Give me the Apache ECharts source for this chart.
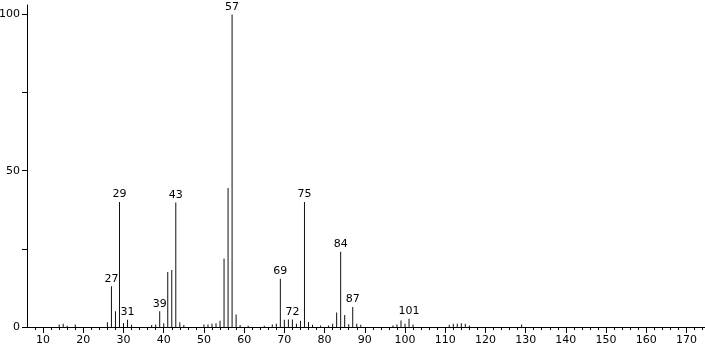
<!DOCTYPE html>
<html><head><meta charset="utf-8">
<script src="https://cdn.jsdelivr.net/npm/echarts@6/dist/echarts.min.js"></script>
<style>html,body{margin:0;padding:0;background:#fff}#c{width:705px;height:349px}</style>
</head><body><div id="c"></div>
<script>
const mz =        [14, 15, 16, 18, 26, 27, 28, 29, 30, 31, 32, 37, 38, 39, 40, 41, 42, 43, 44, 45, 50, 51, 52, 53, 54, 55, 56, 57, 58, 59, 61, 65, 67, 68, 69, 70, 71, 72, 73, 74, 75, 76, 77, 79, 81, 82, 83, 84, 85, 86, 87, 88, 89, 97, 98, 99, 100, 101, 102, 111, 112, 113, 114, 115, 116, 129];
const intensity = [0.8,1.0,0.4,0.8,1.5,13, 5.0,40, 1.3,2.3,0.7,0.6,0.8,5.0,1.2,17.6,18.2,39.8,1.5,0.6,0.8,0.8,1.0,1.2,2.0,21.9,44.5,100,4.0,0.6,0.4,0.4,0.8,1.0,15.4,2.3,2.4,2.4,1.0,2.0,40, 1.6,0.7,0.5,0.5,1.0,4.6,24.1,3.8,0.9,6.4,1.0,0.7,0.5,0.8,2.1,1.0,2.6,0.8,0.7,1.0,1.0,1.2,1.0,0.5,0.8];
const labelled = [27, 29, 31, 39, 43, 57, 69, 72, 75, 84, 87, 101];
const xMajorTicks = [10,20,30,40,50,60,70,80,90,100,110,120,130,140,150,160,170];
const yTicks = [0, 25, 50, 75, 100];
const yLabels = [0, 50, 100];

const xMinorTicks = [];
for (let v = 8; v <= 174; v += 2) if (v % 10 !== 0) xMinorTicks.push(v);

const font = 'DejaVu Sans';
const data = mz.map((m, i) => ({
  value: [m, intensity[i]],
  label: { show: labelled.includes(m) }
}));

const chart = echarts.init(document.getElementById('c'));
chart.setOption({
  animation: false,
  grid: { left: 27, right: 0, top: 5, bottom: 22, containLabel: false, outerBoundsMode: 'none' },
  xAxis: [{
    type: 'value', min: 6, max: 174.6,
    splitLine: { show: false },
    axisLine: { show: true, lineStyle: { color: '#000', width: 1 } },
    axisTick: { show: true, customValues: xMajorTicks, length: 6, lineStyle: { color: '#000' } },
    axisLabel: { customValues: xMajorTicks, color: '#000', fontFamily: font, fontSize: 11, margin: 8 }
  }, {
    type: 'value', min: 6, max: 174.6, position: 'bottom',
    splitLine: { show: false },
    axisLine: { show: false },
    axisTick: { show: true, customValues: xMinorTicks, length: 3, lineStyle: { color: '#000' } },
    axisLabel: { show: false }
  }],
  yAxis: {
    type: 'value', min: 0, max: 103,
    splitLine: { show: false },
    axisLine: { show: true, lineStyle: { color: '#000', width: 1 } },
    axisTick: { show: true, customValues: yTicks, length: 5, lineStyle: { color: '#000' } },
    axisLabel: { customValues: yLabels, color: '#000', fontFamily: font, fontSize: 11, margin: 7 }
  },
  series: [{
    type: 'bar', xAxisIndex: 0, barWidth: 1,
    itemStyle: { color: '#111' },
    label: { position: 'top', distance: 2, color: '#000', fontFamily: font, fontSize: 11,
             formatter: p => String(p.value[0]) },
    data: data
  }]
});
</script></body></html>
